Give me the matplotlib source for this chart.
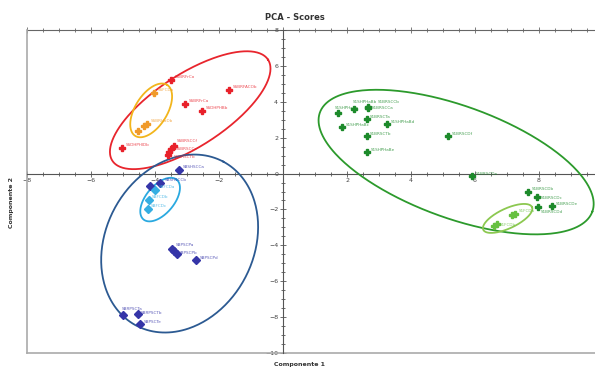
import matplotlib
matplotlib.use("Agg")
import matplotlib.pyplot as plt
import numpy as np
from matplotlib.lines import Line2D
from matplotlib.ticker import MultipleLocator, FixedLocator

# --- data -------------------------------------------------------------------
red_x = [-3.50, -1.69, -3.06, -2.53, -5.03, -3.42, -3.50, -3.56, -3.60]
red_y = [5.22, 4.67, 3.89, 3.50, 1.44, 1.55, 1.39, 1.20, 1.05]
red_labels = ["SSBRFrCo", "SSBRFACOb", "SSBRFrCa", "SSDHPHBb", "SSDHPHlDb",
              "SSBRSCCf", "SSBRSCCe", "SSBRSCTb", ""]

orange_x = [-4.03, -4.25, -4.34, -4.53]
orange_y = [4.50, 2.78, 2.67, 2.35]
orange_labels = ["SSFCDa", "SSBRHaDb", "", ""]

navy_x = [-3.25, -3.84, -4.16, -3.46, -3.40, -3.32, -2.72, -5.00, -4.54, -4.47]
navy_y = [0.22, -0.54, -0.72, -4.22, -4.33, -4.50, -4.83, -7.90, -7.83, -8.39]
navy_labels = ["SBSHSCCa", "SBSHSCCb", "", "SBPSCPa", "SBPSCPb", "",
               "SBPSCPd", "SBRPSCTa", "SBRPSCTb", "SBPSCTe"]

cyan_x = [-4.00, -4.20, -4.23]
cyan_y = [-0.90, -1.45, -1.95]
cyan_labels = ["SBFCDa", "SBFCDb", "SBFCDc"]

green_x = [1.71, 2.22, 2.65, 2.67, 2.61, 1.85, 3.26, 2.61, 5.15, 2.63,
           5.92, 7.67, 7.95, 7.96, 8.40]
green_y = [3.35, 3.59, 3.65, 3.72, 3.04, 2.57, 2.76, 2.07, 2.07, 1.19,
           -0.15, -1.04, -1.28, -1.87, -1.83]
green_labels = ["S1SHPHaBa", "S1SHPHaBb", "S1BRSCCa", "S1BRSCCb", "S1BRSCTa",
                "S1SHPHaBc", "S1SHPHaBd", "S1BRSCTb", "S1BRSCDf", "S1SHPHaBe",
                "S1BRSCDa", "S1BRSCDb", "S1BRSCDc", "S1BRSCDd", "S1BRSCDe"]

lgreen_x = [7.25, 7.17, 6.68, 6.60]
lgreen_y = [-2.24, -2.33, -2.80, -2.94]
lgreen_labels = ["S1FCDa", "", "S1FCDb", ""]

# ellipses: centre (x, y), semi-axes in x units as seen, visual angle (deg)
ellipses = [
    ((-2.90, 3.53), 2.90, 1.13, 33, "#e8252d"),
    ((-4.12, 3.52), 0.94, 0.50, 58, "#f2b51c"),
    ((-3.23, -3.90), 2.90, 2.31, 62, "#2c5a92"),
    ((-3.84, -1.45), 0.81, 0.44, 50, "#2aa9e0"),
    ((5.41, 0.64), 4.53, 1.75, -20, "#2c9a2c"),
    ((7.02, -2.50), 0.84, 0.31, 25, "#8cc850"),
]

# label nudges (points) where names crowd each other
nudge = {
    "SSBRSCCf": (2.5, 2.5), "SSBRSCCe": (3.5, -1.0), "SSBRSCTb": (3.5, -4.0),
    "SBPSCPa": (2.5, 2.5), "SBPSCPb": (3.5, -2.0),
    "SBSHSCCa": (2.5, 1.5), "SBSHSCCb": (3.0, 1.5),
    "SBRPSCTa": (-1.0, 3.5), "SBRPSCTb": (2.5, 0.0),
    "S1SHPHaBa": (-2.0, 3.5), "S1SHPHaBb": (-1.0, 4.5),
    "S1BRSCCb": (7.0, 3.0), "S1BRSCCa": (3.0, -1.0),
    "S1BRSCDb": (2.5, 1.5), "S1BRSCDc": (2.5, -1.5),
    "S1BRSCDd": (2.5, -4.0), "S1BRSCDe": (2.5, 1.0),
    "S1FCDa": (2.5, 1.5), "S1FCDb": (2.5, -1.5),
}

XLIM = (-8, 9.75)
YLIM = (-10, 8)
W, H = 5.95, 3.69

fig = plt.figure(figsize=(W, H), dpi=100)
ax_pos = [27 / 595, 1 - 353 / 369, 1 - 27 / 595, (353 - 30) / 369]
ax = fig.add_axes(ax_pos)
ax.set_xlim(*XLIM)
ax.set_ylim(*YLIM)

# visual aspect: pixels per x unit vs pixels per y unit
px_x = ax_pos[2] * W * 100 / (XLIM[1] - XLIM[0])
px_y = ax_pos[3] * H * 100 / (YLIM[1] - YLIM[0])
aspect = px_x / px_y

t = np.linspace(0, 2 * np.pi, 300)
for (cx, cy), a, b, ang, col in ellipses:
    th = np.deg2rad(ang)
    u = a * np.cos(t) * np.cos(th) - b * np.sin(t) * np.sin(th)
    v = a * np.cos(t) * np.sin(th) + b * np.sin(t) * np.cos(th)
    ax.plot(cx + u, cy + v * aspect, color=col, lw=1.3, zorder=3)

groups = [
    (red_x, red_y, red_labels, "#e8202a", "P"),
    (orange_x, orange_y, orange_labels, "#f09a2a", "P"),
    (navy_x, navy_y, navy_labels, "#3535a8", "D"),
    (cyan_x, cyan_y, cyan_labels, "#35aee2", "D"),
    (green_x, green_y, green_labels, "#1c8a2a", "P"),
    (lgreen_x, lgreen_y, lgreen_labels, "#66c040", "P"),
]
for xs, ys, labels, col, mk in groups:
    ax.plot(xs, ys, ls="none", marker=mk, ms=5 if mk == "P" else 4,
            color=col, zorder=4)
    for x, y, lab in zip(xs, ys, labels):
        if lab:
            ax.annotate(lab, (x, y), xytext=nudge.get(lab, (2.5, 1)),
                        textcoords="offset points", fontsize=3.0, color=col,
                        alpha=0.8, zorder=5)

# axes crossing at the origin
for side in ("top", "right"):
    ax.spines[side].set_visible(False)
ax.spines["left"].set_position("zero")
ax.spines["bottom"].set_position("zero")
ax.spines["left"].set_color("#555555")
ax.spines["bottom"].set_color("#555555")

ax.xaxis.set_major_locator(FixedLocator([-8, -6, -4, -2, 2, 4, 6, 8]))
ax.xaxis.set_minor_locator(MultipleLocator(0.5))
ax.yaxis.set_major_locator(MultipleLocator(2))
ax.yaxis.set_minor_locator(MultipleLocator(0.5))
ax.tick_params(which="both", direction="inout", colors="#555555",
               labelsize=4.5, labelcolor="#444444", width=0.6)
ax.tick_params(which="major", length=4, pad=1.5)
ax.tick_params(which="minor", length=2.5)

# frame: grey left/bottom, darker top with ticks
ax.add_line(Line2D([0, 0], [0, 1], transform=ax.transAxes, color="#aaaaaa",
                   lw=1.2, clip_on=False))
ax.add_line(Line2D([0, 1], [0, 0], transform=ax.transAxes, color="#aaaaaa",
                   lw=1.2, clip_on=False))
top = ax.secondary_xaxis("top")
top.spines["top"].set_color("#666666")
top.xaxis.set_major_locator(MultipleLocator(2))
top.xaxis.set_minor_locator(MultipleLocator(0.5))
top.tick_params(which="both", direction="inout", colors="#666666",
                labeltop=False, width=0.6)
top.tick_params(which="major", length=4)
top.tick_params(which="minor", length=2.5)

fig.text(0.496, 0.952, "PCA - Scores", ha="center", va="center",
         fontsize=6, fontweight="bold", color="#333333")
fig.text(0.504, 0.012, "Componente 1", ha="center", va="center",
         fontsize=4.5, fontweight="bold", color="#333333")
fig.text(0.02, 0.45, "Componente 2", ha="center", va="center", rotation=90,
         fontsize=4.5, fontweight="bold", color="#333333")

fig.savefig("out.png", dpi=100)
